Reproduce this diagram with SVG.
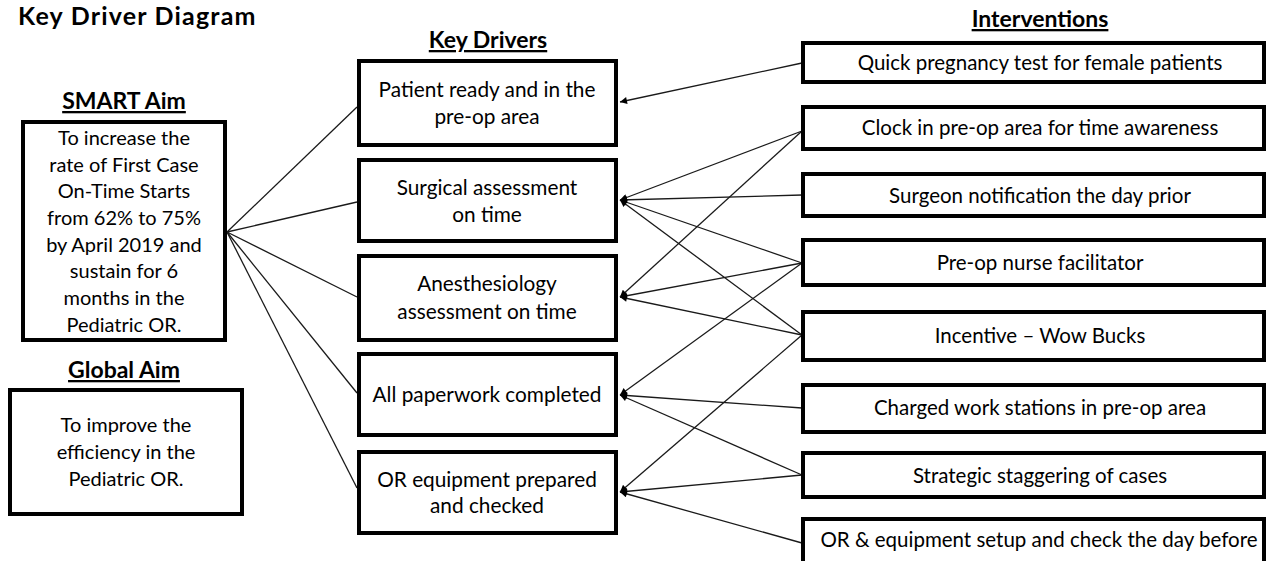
<svg xmlns="http://www.w3.org/2000/svg" width="1268" height="561" viewBox="0 0 1268 561">
<style>
.box{fill:#fff;stroke:#000;stroke-width:4}
.t{font-family:Lato,"Liberation Sans",sans-serif;font-size:20px;fill:#000;text-anchor:middle}
.tk{font-family:Lato,"Liberation Sans",sans-serif;font-size:20.8px;fill:#000;text-anchor:middle}
.ti{font-family:Lato,"Liberation Sans",sans-serif;font-size:20.5px;fill:#000;text-anchor:middle}
.h{font-family:Lato,"Liberation Sans",sans-serif;font-size:23px;font-weight:bold;fill:#000;text-anchor:middle;text-decoration:underline}
.c{stroke:#1a1a1a;stroke-width:1.3;fill:none}
.a{marker-end:url(#ah)}
</style>
<defs>
<marker id="ah" viewBox="0 0 10 10" refX="10" refY="5" markerWidth="8" markerHeight="7" markerUnits="userSpaceOnUse" orient="auto">
<path d="M0,0 L10,5 L0,10 Z" fill="#000"/>
</marker>
</defs>
<rect width="1268" height="561" fill="#fff"/>
<text x="18" y="25" font-family="Lato,'Liberation Sans',sans-serif" font-size="25" letter-spacing="1.2" font-weight="bold" fill="#000">Key Driver Diagram</text>
<text class="h" x="124" y="109">SMART Aim</text>
<text class="h" x="124" y="378">Global Aim</text>
<text class="h" x="488" y="48">Key Drivers</text>
<text class="h" x="1040" y="27">Interventions</text>

<g id="connectors">
<line class="c" x1="227" y1="232" x2="357" y2="107"/>
<line class="c" x1="227" y1="232" x2="357" y2="202"/>
<line class="c" x1="227" y1="232" x2="357" y2="297"/>
<line class="c" x1="227" y1="232" x2="357" y2="393"/>
<line class="c" x1="227" y1="232" x2="357" y2="488"/>
<line class="c a" x1="802" y1="63" x2="620" y2="102"/>
<line class="c a" x1="802" y1="131" x2="620" y2="200"/>
<line class="c a" x1="802" y1="131" x2="620" y2="297"/>
<line class="c a" x1="802" y1="195" x2="620" y2="200"/>
<line class="c a" x1="802" y1="263" x2="620" y2="200"/>
<line class="c a" x1="802" y1="263" x2="620" y2="297"/>
<line class="c a" x1="802" y1="263" x2="620" y2="395"/>
<line class="c a" x1="802" y1="335" x2="620" y2="200"/>
<line class="c a" x1="802" y1="335" x2="620" y2="297"/>
<line class="c a" x1="802" y1="335" x2="620" y2="492"/>
<line class="c a" x1="802" y1="408" x2="620" y2="395"/>
<line class="c a" x1="802" y1="475" x2="620" y2="395"/>
<line class="c a" x1="802" y1="475" x2="620" y2="492"/>
<line class="c a" x1="802" y1="543" x2="620" y2="492"/>
</g>

<g id="smart-aim">
<rect class="box" x="23" y="122" width="202" height="218"/>
<text class="t" x="124" y="145">To increase the</text>
<text class="t" x="124" y="172">rate of First Case</text>
<text class="t" x="124" y="198">On-Time Starts</text>
<text class="t" x="124" y="225">from 62% to 75%</text>
<text class="t" x="124" y="252">by April 2019 and</text>
<text class="t" x="124" y="278">sustain for 6</text>
<text class="t" x="124" y="305">months in the</text>
<text class="t" x="124" y="332">Pediatric OR.</text>
</g>
<g id="global-aim">
<rect class="box" x="10" y="390" width="232" height="124"/>
<text class="t" x="126" y="432">To improve the</text>
<text class="t" x="126" y="459">efficiency in the</text>
<text class="t" x="126" y="486">Pediatric OR.</text>
</g>

<g id="kd1"><rect class="box" x="359" y="61" width="257" height="84"/>
<text class="tk" x="487" y="97">Patient ready and in the</text>
<text class="tk" x="487" y="124">pre-op area</text></g>
<g id="kd2"><rect class="box" x="359" y="160" width="257" height="81"/>
<text class="tk" x="487" y="195">Surgical assessment</text>
<text class="tk" x="487" y="222">on time</text></g>
<g id="kd3"><rect class="box" x="359" y="256" width="257" height="84"/>
<text class="tk" x="487" y="291">Anesthesiology</text>
<text class="tk" x="487" y="319">assessment on time</text></g>
<g id="kd4"><rect class="box" x="359" y="354" width="257" height="81"/>
<text class="tk" x="487" y="402">All paperwork completed</text></g>
<g id="kd5"><rect class="box" x="359" y="452" width="257" height="81"/>
<text class="tk" x="487" y="487">OR equipment prepared</text>
<text class="tk" x="487" y="513">and checked</text></g>

<g id="int1"><rect class="box" x="803" y="43" width="461" height="39"/>
<text class="ti" x="1040" y="70">Quick pregnancy test for female patients</text></g>
<g id="int2"><rect class="box" x="803" y="107" width="461" height="42"/>
<text class="ti" x="1040" y="135">Clock in pre-op area for time awareness</text></g>
<g id="int3"><rect class="box" x="803" y="174" width="461" height="42"/>
<text class="ti" x="1040" y="203">Surgeon notification the day prior</text></g>
<g id="int4"><rect class="box" x="803" y="240" width="461" height="45"/>
<text class="ti" x="1040" y="270">Pre-op nurse facilitator</text></g>
<g id="int5"><rect class="box" x="803" y="312" width="461" height="48"/>
<text class="ti" x="1040" y="343">Incentive – Wow Bucks</text></g>
<g id="int6"><rect class="box" x="803" y="385" width="461" height="47"/>
<text class="ti" x="1040" y="415">Charged work stations in pre-op area</text></g>
<g id="int7"><rect class="box" x="803" y="453" width="461" height="44"/>
<text class="ti" x="1040" y="483">Strategic staggering of cases</text></g>
<g id="int8"><rect class="box" x="803" y="519" width="461" height="50"/>
<text class="ti" x="1039" y="547">OR &amp; equipment setup and check the day before</text></g>
</svg>
